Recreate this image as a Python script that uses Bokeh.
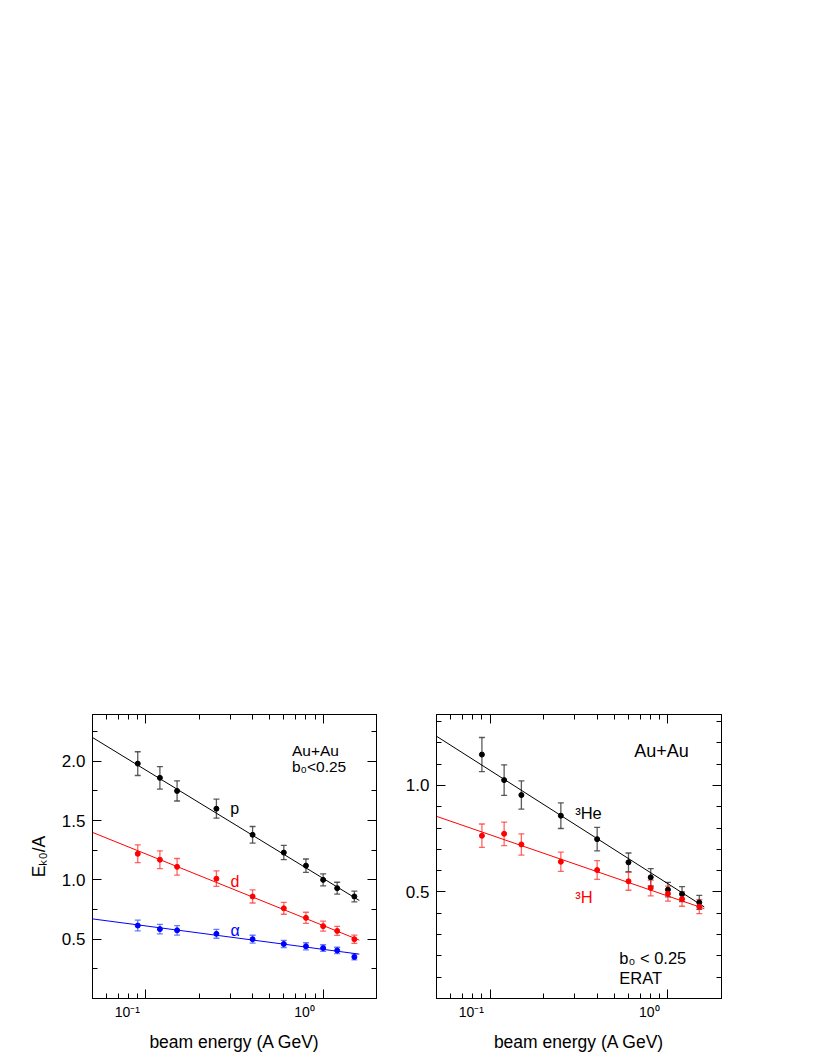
from bokeh.plotting import figure
from bokeh.models import (Range1d, FixedTicker, LogAxis, LinearAxis, Label, Whisker,
                          ColumnDataSource, TeeHead, PrintfTickFormatter, CustomJSTickFormatter)
from bokeh.layouts import row
from bokeh.embed import file_html
from bokeh.resources import INLINE

# ---------------- data ----------------
energies = [0.09, 0.12, 0.15, 0.25, 0.4, 0.6, 0.8, 1.0, 1.2, 1.5]

p_y = [1.98, 1.86, 1.75, 1.60, 1.38, 1.23, 1.12, 1.00, 0.93, 0.86]
p_err = [0.10, 0.095, 0.085, 0.08, 0.07, 0.06, 0.056, 0.05, 0.05, 0.045]
d_y = [1.22, 1.17, 1.11, 1.01, 0.86, 0.76, 0.68, 0.61, 0.57, 0.50]
d_err = [0.075, 0.075, 0.07, 0.065, 0.055, 0.05, 0.047, 0.042, 0.038, 0.035]
a_y = [0.615, 0.585, 0.575, 0.545, 0.50, 0.46, 0.44, 0.425, 0.405, 0.35]
a_err = [0.045, 0.04, 0.04, 0.037, 0.033, 0.03, 0.03, 0.028, 0.027, 0.024]

he_y = [1.145, 1.025, 0.955, 0.858, 0.748, 0.639, 0.569, 0.511, 0.49, 0.451]
he_err = [0.08, 0.072, 0.066, 0.06, 0.055, 0.044, 0.041, 0.034, 0.035, 0.033]
t_y = [0.764, 0.773, 0.723, 0.642, 0.603, 0.55, 0.519, 0.492, 0.467, 0.431]
t_err = [0.055, 0.055, 0.05, 0.045, 0.044, 0.042, 0.037, 0.035, 0.034, 0.033]

# fitted lines: values at the two ends
fit_x = [0.05, 1.6]
fit_p = [2.20, 0.826]
fit_d = [1.40, 0.492]
fit_a = [0.671, 0.374]
fit_he = [1.231, 0.43]
fit_t = [0.855, 0.422]

x_major = [0.1, 1.0]
x_minor = [0.05, 0.06, 0.07, 0.08, 0.09, 0.2, 0.3, 0.4, 0.5, 0.6, 0.7, 0.8, 0.9, 2.0]
x_tick_labels = ["10\u207b\u00b9", "10\u2070"]

left_y_major = [0.5, 1.0, 1.5, 2.0]
left_y_minor = [0.25, 0.75, 1.25, 1.75, 2.25]
right_y_major = [0.5, 1.0]
right_y_minor = [0.1, 0.2, 0.3, 0.4, 0.6, 0.7, 0.8, 0.9, 1.1, 1.2, 1.3]

FONT = "Liberation Sans"
RED = "#ff0000"
BLUE = "#0000ff"
BLACK = "#000000"
LABEL_SHIFT_DECADES = 0.105   # the x labels sit left of their ticks, as in the original


def style_axis(ax, major_in, minor_in, show_labels=True):
    ax.major_tick_in = major_in
    ax.major_tick_out = 0
    ax.minor_tick_in = minor_in
    ax.minor_tick_out = 0
    ax.axis_line_color = BLACK
    ax.major_tick_line_color = BLACK
    ax.minor_tick_line_color = BLACK
    ax.major_label_text_font = FONT
    ax.major_label_text_color = BLACK
    ax.axis_label_text_font = FONT
    ax.axis_label_text_font_style = "normal"
    ax.axis_label_text_color = BLACK
    if not show_labels:
        ax.formatter = CustomJSTickFormatter(code="return '';")
        ax.major_label_text_font_size = "2px"
        ax.major_label_standoff = 0


def make_panel(ymax, ymajor, yminor, border_left, frame_w, ylabel):
    p = figure(x_axis_type="log", x_range=Range1d(0.05, 2.0), y_range=Range1d(0, ymax),
               frame_width=frame_w, frame_height=284,
               min_border_left=border_left, min_border_right=10,
               min_border_top=714, min_border_bottom=50,
               output_backend="svg", toolbar_location=None,
               background_fill_color="white", border_fill_color="white")
    p.outline_line_color = BLACK
    p.outline_line_width = 1
    p.xgrid.visible = False
    p.ygrid.visible = False

    # bottom axis: ticks only
    xb = p.xaxis[0]
    xb.ticker = FixedTicker(ticks=x_major, minor_ticks=x_minor)
    style_axis(xb, 9, 5, show_labels=False)

    # second bottom axis: tick labels (shifted left as in the original) + title
    lab_pos = [t * 10 ** (-LABEL_SHIFT_DECADES) for t in x_major]
    labels_js = "[" + ",".join("'%s'" % s for s in x_tick_labels) + "]"
    xl = LogAxis(ticker=FixedTicker(ticks=lab_pos, minor_ticks=[]),
                 formatter=CustomJSTickFormatter(code="return %s[index];" % labels_js))
    style_axis(xl, 0, 0)
    xl.axis_line_color = None
    xl.major_tick_line_color = None
    xl.minor_tick_line_color = None
    xl.major_label_text_font_size = "14px"
    xl.major_label_standoff = 5
    xl.axis_label = "beam energy (A GeV)"
    xl.axis_label_text_font_size = "17.5px"
    xl.axis_label_standoff = 9
    p.add_layout(xl, "below")

    yl = p.yaxis[0]
    yl.ticker = FixedTicker(ticks=ymajor, minor_ticks=yminor)
    yl.formatter = PrintfTickFormatter(format="%.1f")
    style_axis(yl, 9, 5)
    yl.major_label_text_font_size = "17px"
    yl.major_label_standoff = 7
    if ylabel:
        yl.axis_label = ylabel
        yl.axis_label_text_font_size = "17.5px"
        yl.axis_label_standoff = 10

    xt = LogAxis(ticker=FixedTicker(ticks=x_major, minor_ticks=x_minor))
    style_axis(xt, 9, 5, show_labels=False)
    p.add_layout(xt, "above")
    yr = LinearAxis(ticker=FixedTicker(ticks=ymajor, minor_ticks=yminor))
    style_axis(yr, 9, 5, show_labels=False)
    p.add_layout(yr, "right")
    return p


def add_series(p, yvals, errs, fit_y, color, bar_color, bar_alpha):
    upper = [y + e for y, e in zip(yvals, errs)]
    lower = [y - e for y, e in zip(yvals, errs)]
    src = ColumnDataSource(dict(x=energies, y=yvals, upper=upper, lower=lower))
    p.line(fit_x, fit_y, line_color=color, line_width=1)
    w = Whisker(source=src, base="x", upper="upper", lower="lower", dimension="height",
                line_color=bar_color, line_alpha=bar_alpha, line_width=1.3,
                upper_head=TeeHead(size=6, line_color=bar_color, line_alpha=bar_alpha, line_width=1.3),
                lower_head=TeeHead(size=6, line_color=bar_color, line_alpha=bar_alpha, line_width=1.3))
    p.add_layout(w)
    p.scatter("x", "y", source=src, size=5, color=color)


def text(p, x, y, s, color=BLACK, size="16px"):
    p.add_layout(Label(x=x, y=y, text=s, text_align="left", text_baseline="alphabetic",
                       text_font=FONT, text_font_size=size, text_color=color))


# ---------------- left panel ----------------
p1 = make_panel(2.394, left_y_major, left_y_minor, 92, 284, "E\u2096\u2080/A")
add_series(p1, p_y, p_err, fit_p, BLACK, "#333333", 0.8)
add_series(p1, d_y, d_err, fit_d, RED, "#ff3333", 0.75)
add_series(p1, a_y, a_err, fit_a, BLUE, "#3355ff", 0.75)
text(p1, 0.299, 1.60, "p", BLACK, "16px")
text(p1, 0.300, 0.99, "d", RED, "16px")
text(p1, 0.300, 0.571, "\u03b1", BLUE, "16px")
text(p1, 0.667, 2.089, "Au+Au", BLACK, "15.5px")
text(p1, 0.667, 1.953, "b\u2080<0.25", BLACK, "15.5px")

# ---------------- right panel ----------------
p2 = make_panel(1.333, right_y_major, right_y_minor, 50, 285, None)
add_series(p2, he_y, he_err, fit_he, BLACK, "#333333", 0.8)
add_series(p2, t_y, t_err, fit_t, RED, "#ff3333", 0.75)
text(p2, 0.647, 1.161, "Au+Au", BLACK, "18px")
text(p2, 0.301, 0.869, "\u00b3He", BLACK, "16.5px")
text(p2, 0.301, 0.477, "\u00b3H", RED, "16.5px")
text(p2, 0.533, 0.192, "b\u2080 < 0.25", BLACK, "16.5px")
text(p2, 0.533, 0.097, "ERAT", BLACK, "16.5px")

layout = row(p1, p2)
open("out.html", "w").write(file_html(layout, INLINE))
